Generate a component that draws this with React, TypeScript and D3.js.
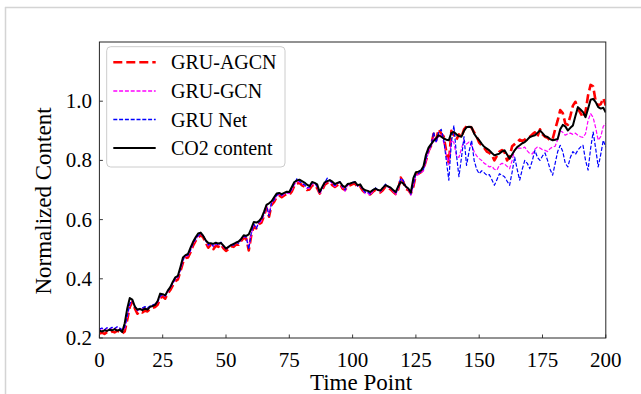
import React from "react";
import * as d3 from "d3";

const xTicks = [0, 25, 50, 75, 100, 125, 150, 175, 200];
const yTicks = [0.2, 0.4, 0.6, 0.8, 1.0];
const yTickLabels = ["0.2", "0.4", "0.6", "0.8", "1.0"];
const seriesNames = ["GRU-AGCN", "GRU-GCN", "GRU Net", "CO2 content"];

const co2 = [
  0.225, 0.222, 0.226, 0.224, 0.228, 0.226, 0.23, 0.225, 0.228, 0.22,
  0.25, 0.3, 0.335, 0.33, 0.306, 0.296, 0.298, 0.294, 0.3, 0.296,
  0.305, 0.308, 0.312, 0.325, 0.35, 0.348, 0.344, 0.36, 0.372, 0.39,
  0.405, 0.41, 0.44, 0.472, 0.48, 0.484, 0.505, 0.525, 0.54, 0.553,
  0.556, 0.545, 0.53, 0.521, 0.52, 0.518, 0.522, 0.519, 0.521, 0.512,
  0.502, 0.508, 0.514, 0.518, 0.522, 0.526, 0.535, 0.547, 0.545, 0.55,
  0.57, 0.592, 0.59, 0.595, 0.605, 0.626, 0.65, 0.655, 0.662, 0.675,
  0.688, 0.69, 0.686, 0.69, 0.694, 0.693, 0.71, 0.727, 0.732, 0.735,
  0.73, 0.725, 0.718, 0.713, 0.727, 0.724, 0.719, 0.693, 0.71, 0.726,
  0.73, 0.733, 0.728, 0.72, 0.724, 0.727, 0.715, 0.71, 0.72, 0.722,
  0.725, 0.727, 0.716, 0.719, 0.705, 0.699, 0.697, 0.693, 0.7, 0.705,
  0.7, 0.698, 0.708, 0.716, 0.712, 0.708, 0.7, 0.693, 0.712, 0.727,
  0.722, 0.712, 0.705, 0.692, 0.74, 0.76, 0.762, 0.766, 0.78, 0.82,
  0.843, 0.855, 0.866, 0.875, 0.885, 0.88, 0.874, 0.87, 0.868, 0.893,
  0.896, 0.888, 0.882, 0.88, 0.9, 0.912, 0.914, 0.912, 0.89, 0.878,
  0.868, 0.856, 0.846, 0.84, 0.834, 0.825, 0.817, 0.82, 0.823, 0.83,
  0.834, 0.82, 0.806, 0.82, 0.834, 0.845, 0.851, 0.858, 0.862, 0.87,
  0.879, 0.882, 0.885, 0.893, 0.901, 0.892, 0.882, 0.879, 0.872, 0.868,
  0.87, 0.872, 0.905, 0.92, 0.915, 0.901, 0.91, 0.918, 0.95, 0.98,
  0.972, 0.963, 0.946, 0.975, 1.005, 1.008, 0.997, 0.98, 0.975, 0.978,
  0.962,
];

const agcn = [
  0.215, 0.218, 0.214, 0.22, 0.217, 0.222, 0.219, 0.224, 0.221, 0.215,
  0.222, 0.262, 0.305, 0.322, 0.3, 0.282, 0.29, 0.286, 0.292, 0.29,
  0.298, 0.302, 0.305, 0.312, 0.335, 0.34, 0.333, 0.35, 0.362, 0.378,
  0.392, 0.398, 0.425, 0.455, 0.47, 0.472, 0.49, 0.512, 0.528, 0.54,
  0.547, 0.54, 0.522, 0.505, 0.515, 0.5, 0.512, 0.508, 0.516, 0.503,
  0.494, 0.5, 0.51, 0.508, 0.516, 0.515, 0.528, 0.538, 0.535, 0.496,
  0.548, 0.578, 0.57, 0.585, 0.59, 0.612, 0.64, 0.61, 0.65, 0.66,
  0.676, 0.682, 0.676, 0.682, 0.686, 0.684, 0.695, 0.714, 0.722, 0.724,
  0.716, 0.712, 0.7, 0.702, 0.715, 0.718, 0.706, 0.688, 0.7, 0.718,
  0.724, 0.728, 0.716, 0.71, 0.716, 0.722, 0.705, 0.7, 0.712, 0.716,
  0.72, 0.722, 0.708, 0.712, 0.698, 0.69, 0.688, 0.685, 0.694, 0.7,
  0.694, 0.692, 0.7, 0.712, 0.706, 0.702, 0.694, 0.686, 0.702, 0.742,
  0.728, 0.704, 0.7, 0.688, 0.712, 0.752, 0.755, 0.76, 0.77, 0.8,
  0.832, 0.85, 0.89, 0.87, 0.905, 0.89, 0.88, 0.83, 0.79, 0.9,
  0.885, 0.87, 0.888, 0.878, 0.905, 0.915, 0.918, 0.91, 0.895, 0.88,
  0.86, 0.85, 0.842, 0.83, 0.825, 0.818, 0.8, 0.815, 0.83, 0.835,
  0.828, 0.8, 0.812, 0.848, 0.855, 0.862, 0.87, 0.866, 0.87, 0.878,
  0.88, 0.888, 0.895, 0.88, 0.905, 0.888, 0.88, 0.876, 0.868, 0.872,
  0.905, 0.935, 0.97, 0.96, 0.925, 0.92, 0.95, 0.985, 0.998, 0.975,
  0.96, 0.945, 0.965, 1.02, 1.055, 1.05, 1.0, 0.985, 0.99, 1.01,
  0.985,
];

const gcn = [
  0.228, 0.232, 0.226, 0.233, 0.229, 0.235, 0.23, 0.236, 0.232, 0.226,
  0.232, 0.27, 0.312, 0.326, 0.305, 0.292, 0.298, 0.3, 0.304, 0.3,
  0.306, 0.31, 0.312, 0.32, 0.34, 0.345, 0.34, 0.356, 0.368, 0.384,
  0.398, 0.405, 0.43, 0.462, 0.476, 0.478, 0.495, 0.518, 0.532, 0.545,
  0.55, 0.545, 0.528, 0.512, 0.52, 0.508, 0.518, 0.512, 0.522, 0.508,
  0.5, 0.506, 0.515, 0.512, 0.522, 0.52, 0.532, 0.542, 0.54, 0.505,
  0.552, 0.582, 0.574, 0.588, 0.595, 0.616, 0.645, 0.62, 0.655, 0.664,
  0.68, 0.686, 0.68, 0.686, 0.69, 0.688, 0.7, 0.718, 0.728, 0.728,
  0.72, 0.716, 0.705, 0.706, 0.72, 0.722, 0.71, 0.686, 0.704, 0.722,
  0.728, 0.732, 0.72, 0.712, 0.72, 0.726, 0.708, 0.696, 0.715, 0.72,
  0.724, 0.726, 0.712, 0.715, 0.7, 0.688, 0.69, 0.682, 0.696, 0.704,
  0.698, 0.694, 0.704, 0.716, 0.71, 0.704, 0.696, 0.684, 0.705, 0.738,
  0.73, 0.708, 0.702, 0.682, 0.715, 0.75, 0.752, 0.758, 0.765, 0.798,
  0.828, 0.846, 0.875, 0.862, 0.88, 0.89, 0.86, 0.82, 0.785, 0.87,
  0.86, 0.815, 0.81, 0.84, 0.868, 0.855, 0.862, 0.85, 0.83, 0.815,
  0.806, 0.8, 0.79, 0.785, 0.778, 0.78, 0.77, 0.767, 0.785, 0.79,
  0.788, 0.78, 0.772, 0.8, 0.835, 0.84, 0.842, 0.84, 0.845, 0.832,
  0.823, 0.822, 0.838, 0.845, 0.842, 0.836, 0.834, 0.83, 0.84, 0.845,
  0.848, 0.87, 0.9, 0.895, 0.885, 0.89, 0.892, 0.888, 0.892, 0.885,
  0.88, 0.878, 0.89, 0.935, 0.958, 0.945, 0.91, 0.868, 0.88, 0.915,
  0.925,
];

const gruNet = [
  0.23, 0.234, 0.228, 0.235, 0.231, 0.236, 0.232, 0.238, 0.234, 0.228,
  0.236, 0.274, 0.316, 0.328, 0.308, 0.294, 0.3, 0.302, 0.306, 0.302,
  0.308, 0.312, 0.315, 0.322, 0.342, 0.346, 0.342, 0.358, 0.37, 0.386,
  0.4, 0.406, 0.432, 0.464, 0.478, 0.48, 0.497, 0.52, 0.534, 0.546,
  0.552, 0.546, 0.53, 0.514, 0.522, 0.51, 0.52, 0.514, 0.524, 0.51,
  0.502, 0.508, 0.516, 0.514, 0.524, 0.52, 0.534, 0.545, 0.54, 0.5,
  0.556, 0.585, 0.57, 0.592, 0.598, 0.62, 0.648, 0.612, 0.658, 0.666,
  0.682, 0.688, 0.682, 0.69, 0.692, 0.69, 0.704, 0.722, 0.738, 0.73,
  0.722, 0.718, 0.708, 0.71, 0.724, 0.725, 0.712, 0.69, 0.708, 0.725,
  0.74, 0.734, 0.722, 0.715, 0.722, 0.728, 0.712, 0.7, 0.718, 0.722,
  0.726, 0.728, 0.714, 0.718, 0.702, 0.692, 0.694, 0.686, 0.7, 0.708,
  0.7, 0.698, 0.708, 0.72, 0.712, 0.708, 0.7, 0.688, 0.708, 0.74,
  0.732, 0.712, 0.705, 0.686, 0.718, 0.754, 0.756, 0.762, 0.77, 0.805,
  0.835, 0.85, 0.896, 0.86, 0.895, 0.905, 0.87, 0.8, 0.733, 0.86,
  0.918, 0.82, 0.745, 0.81, 0.88, 0.783, 0.83, 0.868, 0.8, 0.77,
  0.755, 0.765, 0.758, 0.75, 0.752, 0.735, 0.716, 0.735, 0.755, 0.75,
  0.745, 0.73, 0.716, 0.76, 0.811, 0.77, 0.733, 0.77, 0.8, 0.79,
  0.772, 0.8, 0.834, 0.81, 0.8, 0.815, 0.825, 0.8, 0.77, 0.75,
  0.79, 0.83, 0.851, 0.83, 0.79, 0.778, 0.81, 0.83, 0.82, 0.835,
  0.845, 0.851, 0.8, 0.767, 0.84, 0.896, 0.84, 0.778, 0.82, 0.868,
  0.845,
];

const W = 641;
const H = 394;
const M = { left: 99.4, right: 605.8, top: 42, bottom: 338 };
const FONT = "'Liberation Serif', 'Times New Roman', Times, serif";

type Series = { name: string; data: number[]; color: string; width: number; dash: string | null };

export default function App() {
  const x = d3.scaleLinear().domain([0, 200]).range([M.left, M.right]);
  const y = d3.scaleLinear().domain([0.2, 1.2]).range([M.bottom, M.top]);

  const series: Series[] = [
    { name: seriesNames[0], data: agcn, color: "#ff0000", width: 2.6, dash: "9,4" },
    { name: seriesNames[1], data: gcn, color: "#ff00ff", width: 1.2, dash: "4,1.8" },
    { name: seriesNames[2], data: gruNet, color: "#0000ff", width: 1.2, dash: "4,1.8" },
    { name: seriesNames[3], data: co2, color: "#000000", width: 2.0, dash: null },
  ];

  const line = d3
    .line<number>()
    .x((_, i) => x(i))
    .y((d) => y(d));

  const legendX = 106.7;
  const legendY = 46.7;
  const legendW = 178.3;
  const legendH = 120.3;
  const rowY = [62.3, 91, 119.5, 148];

  return (
    <svg
      width={W}
      height={H}
      style={{ position: "absolute", left: 0, top: 0, background: "#fff", fontFamily: FONT }}
    >
      <rect x={0} y={0} width={W} height={H} fill="#fff" />
      <line x1={5} y1={7.5} x2={W} y2={7.5} stroke="#d4d4d4" strokeWidth={1.5} />
      <line x1={5.5} y1={7} x2={5.5} y2={H} stroke="#d4d4d4" strokeWidth={1.5} />

      <defs>
        <clipPath id="plotclip">
          <rect x={M.left} y={M.top} width={M.right - M.left} height={M.bottom - M.top} />
        </clipPath>
      </defs>

      <g clipPath="url(#plotclip)">
        {series.map((s) => (
          <path
            key={s.name}
            d={line(s.data) || ""}
            fill="none"
            stroke={s.color}
            strokeWidth={s.width}
            strokeDasharray={s.dash || undefined}
            strokeLinejoin="round"
          />
        ))}
      </g>

      <rect
        x={M.left}
        y={M.top}
        width={M.right - M.left}
        height={M.bottom - M.top}
        fill="none"
        stroke="#262626"
        strokeWidth={1}
      />

      {xTicks.map((t) => (
        <g key={"x" + t}>
          <line x1={x(t)} x2={x(t)} y1={M.bottom} y2={M.bottom - 3.5} stroke="#262626" strokeWidth={0.9} />
          <text x={x(t)} y={367} textAnchor="middle" fontSize={21} fill="#000">
            {t}
          </text>
        </g>
      ))}

      {yTicks.map((t, i) => (
        <g key={"y" + t}>
          <line x1={M.left} x2={M.left + 3.5} y1={y(t)} y2={y(t)} stroke="#262626" strokeWidth={0.9} />
          <text x={92} y={y(t) + 7} textAnchor="end" fontSize={21} fill="#000">
            {yTickLabels[i]}
          </text>
        </g>
      ))}

      <text x={361} y={390} textAnchor="middle" fontSize={23} fill="#000">
        Time Point
      </text>
      <text transform={`translate(51,201) rotate(-90)`} textAnchor="middle" fontSize={23} fill="#000">
        Normalized Content
      </text>

      <rect
        x={legendX}
        y={legendY}
        width={legendW}
        height={legendH}
        rx={4}
        fill="#fff"
        fillOpacity={0.85}
        stroke="#cccccc"
        strokeWidth={1}
      />
      {series.map((s, i) => (
        <g key={"lg" + s.name}>
          <line
            x1={113.3}
            x2={155.7}
            y1={rowY[i]}
            y2={rowY[i]}
            stroke={s.color}
            strokeWidth={s.width === 1.2 ? 1.4 : s.width}
            strokeDasharray={s.dash || undefined}
          />
          <text x={171} y={rowY[i] + 7} fontSize={20} fill="#000">
            {s.name}
          </text>
        </g>
      ))}
    </svg>
  );
}
